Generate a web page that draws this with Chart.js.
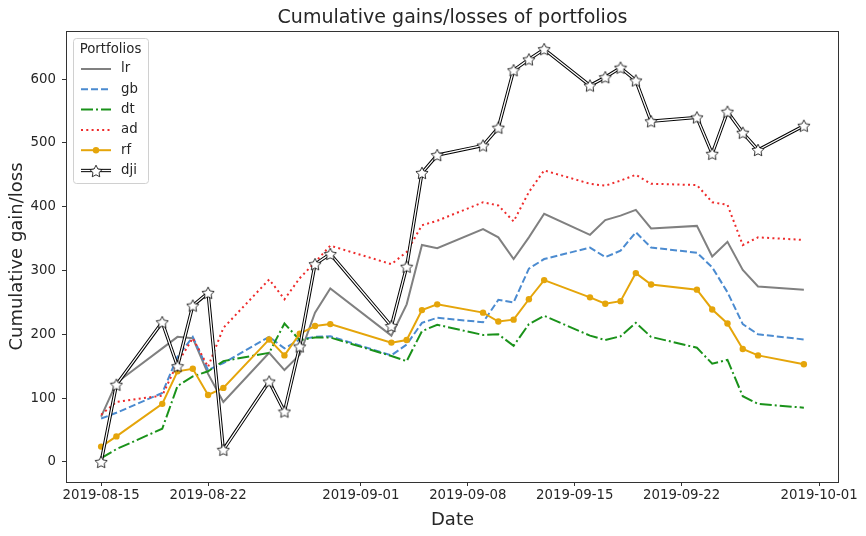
<!DOCTYPE html>
<html>
<head>
<meta charset="utf-8">
<title>Cumulative gains/losses of portfolios</title>
<script src="https://cdn.jsdelivr.net/npm/chart.js@4.4.0/dist/chart.umd.min.js"></script>
<style>
  html, body { margin: 0; padding: 0; background: #fff; }
  #wrap { width: 866px; height: 536px; }
</style>
</head>
<body>
<div id="wrap"><canvas id="chart" width="866" height="536"></canvas></div>
<script>
// trading days
const dates = [
    '2019-08-15', '2019-08-16', '2019-08-19', '2019-08-20', '2019-08-21', '2019-08-22', '2019-08-23',
    '2019-08-26', '2019-08-27', '2019-08-28', '2019-08-29', '2019-08-30',
    '2019-09-03', '2019-09-04', '2019-09-05', '2019-09-06',
    '2019-09-09', '2019-09-10', '2019-09-11', '2019-09-12', '2019-09-13',
    '2019-09-16', '2019-09-17', '2019-09-18', '2019-09-19', '2019-09-20',
    '2019-09-23', '2019-09-24', '2019-09-25', '2019-09-26', '2019-09-27', '2019-09-30'
];

const lr  = [71, 124, 178, 196, 194, 138, 94, 171, 144, 168, 234, 272, 198, 247, 340, 335, 365, 352, 318, 352, 389, 356, 379, 386, 395, 366, 370, 322, 345, 301, 275, 270];
const gb  = [68, 77, 108, 165, 196, 144, 155, 196, 178, 192, 196, 197, 167, 184, 218, 226, 219, 254, 250, 303, 318, 336, 321, 331, 360, 336, 328, 305, 266, 216, 200, 192];
const dt  = [6, 20, 52, 119, 134, 142, 158, 171, 217, 191, 195, 195, 166, 158, 205, 215, 199, 200, 182, 216, 229, 198, 191, 197, 218, 196, 179, 154, 160, 103, 91, 85];
const ad  = [74, 94, 104, 155, 194, 149, 210, 286, 255, 288, 313, 339, 310, 329, 371, 378, 407, 402, 377, 423, 457, 436, 433, 441, 450, 436, 434, 407, 403, 340, 352, 348];
const rf  = [24, 40, 91, 142, 146, 105, 116, 192, 167, 201, 213, 216, 187, 191, 238, 247, 234, 220, 223, 255, 285, 258, 248, 252, 296, 278, 270, 239, 217, 177, 167, 153];
const dji = [0, 121, 219, 150, 245, 265, 19, 126, 79, 181, 310, 326, 213, 306, 453, 481, 496, 524, 614, 631, 647, 590, 603, 618, 598, 534, 540, 483, 549, 516, 489, 527];

const xTickLabels = ['2019-08-15', '2019-08-22', '2019-09-01', '2019-09-08', '2019-09-15', '2019-09-22', '2019-10-01'];
const yTickValues = [0, 100, 200, 300, 400, 500, 600];

const FONT = "'DejaVu Sans', 'Liberation Sans', sans-serif";
const INK = '#262626';

function dayNum(s) {
    const [y, m, d] = s.split('-').map(Number);
    return Date.UTC(y, m - 1, d) / 86400000;
}
const base = dayNum(dates[0]);
function toPoints(values) {
    return values.map((v, i) => ({ x: dayNum(dates[i]) - base, y: v }));
}

function makeStar(size) {
    const c = document.createElement('canvas');
    c.width = size;
    c.height = size;
    const g = c.getContext('2d');
    const cx = size / 2, cy = size / 2 + 0.6, ro = size / 2 - 0.6, ri = ro * 0.5;
    g.beginPath();
    for (let k = 0; k < 10; k++) {
        const r = k % 2 ? ri : ro;
        const a = -Math.PI / 2 + k * Math.PI / 5;
        g.lineTo(cx + r * Math.cos(a), cy + r * Math.sin(a));
    }
    g.closePath();
    g.fillStyle = '#fff';
    g.fill();
    g.lineWidth = 0.8;
    g.strokeStyle = '#000';
    g.stroke();
    return c;
}
const star = makeStar(14);

const styles = {
    lr:  { color: '#808080', width: 2, dash: [] },
    gb:  { color: '#4b8bd0', width: 2, dash: [7, 3] },
    dt:  { color: '#1a921a', width: 2, dash: [12, 3, 2, 3] },
    ad:  { color: '#ee2b2b', width: 2, dash: [2, 3.3] },
    rf:  { color: '#e5a50a', width: 2, dash: [], dot: 3.2 },
    dji: { color: '#ffffff', width: 1.3, dash: [], edge: '#000000', edgeWidth: 3.3 }
};

function lineSet(label, values, st, order) {
    return {
        label: label,
        data: toPoints(values),
        borderColor: st.color,
        borderWidth: st.width,
        borderDash: st.dash,
        pointRadius: st.dot || 0,
        pointBackgroundColor: st.color,
        pointBorderColor: st.color,
        pointBorderWidth: 0,
        tension: 0,
        fill: false,
        order: order
    };
}

const datasets = [
    lineSet('lr', lr, styles.lr, 6),
    lineSet('gb', gb, styles.gb, 5),
    lineSet('dt', dt, styles.dt, 4),
    lineSet('ad', ad, styles.ad, 3),
    lineSet('rf', rf, styles.rf, 2),
    {
        label: 'dji-edge',
        data: toPoints(dji),
        borderColor: styles.dji.edge,
        borderWidth: styles.dji.edgeWidth,
        pointRadius: 0,
        tension: 0,
        order: 1
    },
    {
        label: 'dji',
        data: toPoints(dji),
        borderColor: styles.dji.color,
        borderWidth: styles.dji.width,
        pointStyle: star,
        pointRadius: 7,
        tension: 0,
        order: 0
    }
];

// box round the axes, like matplotlib spines
const framePlugin = {
    id: 'frame',
    afterDatasetsDraw(chart) {
        const { ctx, chartArea: a } = chart;
        ctx.save();
        ctx.strokeStyle = '#333';
        ctx.lineWidth = 1;
        ctx.strokeRect(Math.round(a.left) + 0.5, Math.round(a.top) + 0.5,
            Math.round(a.right - a.left) - 1, Math.round(a.bottom - a.top));
        ctx.restore();
    }
};

// legend box in the upper left corner of the axes
const legendPlugin = {
    id: 'boxLegend',
    afterDatasetsDraw(chart) {
        const ctx = chart.ctx;
        const a = chart.chartArea;
        const x0 = a.left + 7, y0 = a.top + 7, w = 75, h = 145;
        ctx.save();
        ctx.beginPath();
        ctx.roundRect(x0 + 0.5, y0 + 0.5, w, h, 3);
        ctx.fillStyle = 'rgba(255,255,255,0.8)';
        ctx.fill();
        ctx.strokeStyle = '#d0d0d0';
        ctx.lineWidth = 1;
        ctx.stroke();

        ctx.fillStyle = INK;
        ctx.font = '13.3px ' + FONT;
        ctx.textBaseline = 'middle';
        ctx.textAlign = 'center';
        ctx.fillText('Portfolios', x0 + w / 2, y0 + 12);

        const names = ['lr', 'gb', 'dt', 'ad', 'rf', 'dji'];
        names.forEach((name, i) => {
            const st = styles[name];
            const y = y0 + 31 + i * 20.3;
            const sx0 = x0 + 8, sx1 = x0 + 38;
            ctx.setLineDash([]);
            if (st.edge) {
                ctx.strokeStyle = st.edge;
                ctx.lineWidth = st.edgeWidth;
                ctx.beginPath(); ctx.moveTo(sx0, y); ctx.lineTo(sx1, y); ctx.stroke();
            }
            ctx.strokeStyle = st.color;
            ctx.lineWidth = st.width;
            ctx.setLineDash(st.dash);
            ctx.beginPath(); ctx.moveTo(sx0, y); ctx.lineTo(sx1, y); ctx.stroke();
            ctx.setLineDash([]);
            if (st.dot) {
                ctx.fillStyle = st.color;
                ctx.beginPath(); ctx.arc((sx0 + sx1) / 2, y, st.dot, 0, Math.PI * 2); ctx.fill();
            }
            if (st.edge) {
                ctx.drawImage(star, Math.round((sx0 + sx1) / 2 - star.width / 2), Math.round(y - star.height / 2));
            }
            ctx.fillStyle = INK;
            ctx.textAlign = 'left';
            ctx.fillText(name, x0 + 48, y);
        });
        ctx.restore();
    }
};

const ctx = document.getElementById('chart').getContext('2d');
new Chart(ctx, {
    type: 'line',
    data: { datasets: datasets },
    plugins: [framePlugin, legendPlugin],
    options: {
        responsive: false,
        animation: false,
        devicePixelRatio: 1,
        events: [],
        layout: { padding: { left: 0, right: 27, top: 0, bottom: 0 } },
        plugins: {
            legend: { display: false },
            tooltip: { enabled: false },
            title: {
                display: true,
                text: 'Cumulative gains/losses of portfolios',
                fullSize: false,
                color: INK,
                font: { family: FONT, size: 19, weight: 'normal' },
                padding: { top: 7, bottom: 1.2 }
            }
        },
        scales: {
            x: {
                type: 'linear',
                min: -2.3,
                max: 48.3,
                afterFit(scale) { scale.height = 54; },
                afterBuildTicks(scale) {
                    scale.ticks = xTickLabels.map(s => ({ value: dayNum(s) - base }));
                },
                ticks: {
                    autoSkip: false,
                    maxRotation: 0,
                    padding: 2,
                    color: INK,
                    font: { family: FONT, size: 13.3 },
                    callback(value) {
                        const hit = xTickLabels.find(s => dayNum(s) - base === value);
                        return hit || '';
                    }
                },
                grid: { drawOnChartArea: false, drawTicks: true, tickLength: 4, color: '#333' },
                border: { display: false },
                title: {
                    display: true,
                    text: 'Date',
                    color: INK,
                    font: { family: FONT, size: 18 },
                    padding: { top: 0, bottom: 5.2 }
                }
            },
            y: {
                type: 'linear',
                min: -31.5,
                max: 675.5,
                afterFit(scale) { scale.width = 66; },
                afterBuildTicks(scale) {
                    scale.ticks = yTickValues.map(v => ({ value: v }));
                },
                ticks: {
                    padding: 6,
                    color: INK,
                    font: { family: FONT, size: 13.3 }
                },
                grid: { drawOnChartArea: false, drawTicks: true, tickLength: 4, color: '#333' },
                border: { display: false },
                title: {
                    display: true,
                    text: 'Cumulative gain/loss',
                    color: INK,
                    font: { family: FONT, size: 18 },
                    padding: { top: 6.2, bottom: 0 }
                }
            }
        }
    }
});
</script>
</body>
</html>
